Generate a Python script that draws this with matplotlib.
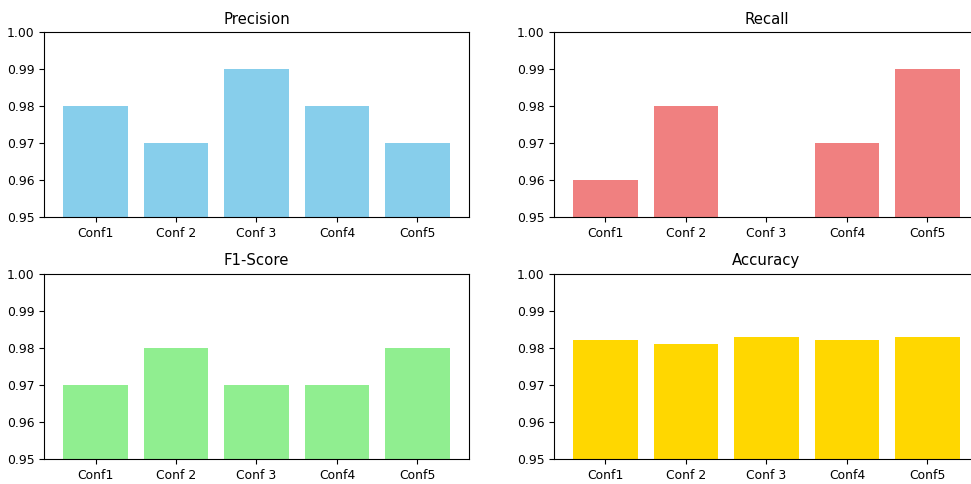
import matplotlib.pyplot as plt

configs = ['Conf1', 'Conf 2', 'Conf 3', 'Conf4', 'Conf5']

precision = [0.98, 0.97, 0.99, 0.98, 0.97]
recall = [0.96, 0.98, 0.95, 0.97, 0.99]
f1_score = [0.97, 0.98, 0.97, 0.97, 0.98]
accuracy = [0.982, 0.981, 0.983, 0.982, 0.983]

metrics = [
    ('Precision', precision, 'skyblue'),
    ('Recall', recall, 'lightcoral'),
    ('F1-Score', f1_score, 'lightgreen'),
    ('Accuracy', accuracy, 'gold'),
]

plt.rcParams['font.size'] = 8.9

fig, axes = plt.subplots(2, 2, figsize=(9.71, 4.84), dpi=100)
# right column runs slightly past the canvas edge
fig.subplots_adjust(left=0.0453, right=1.0082, top=0.9339, bottom=0.0517,
                    wspace=0.2, hspace=0.305)

for ax, (title, values, color) in zip(axes.flat, metrics):
    ax.bar(configs, values, color=color)
    ax.set_title(title)
    ax.set_ylim(0.95, 1.0)

plt.savefig('out.png')
